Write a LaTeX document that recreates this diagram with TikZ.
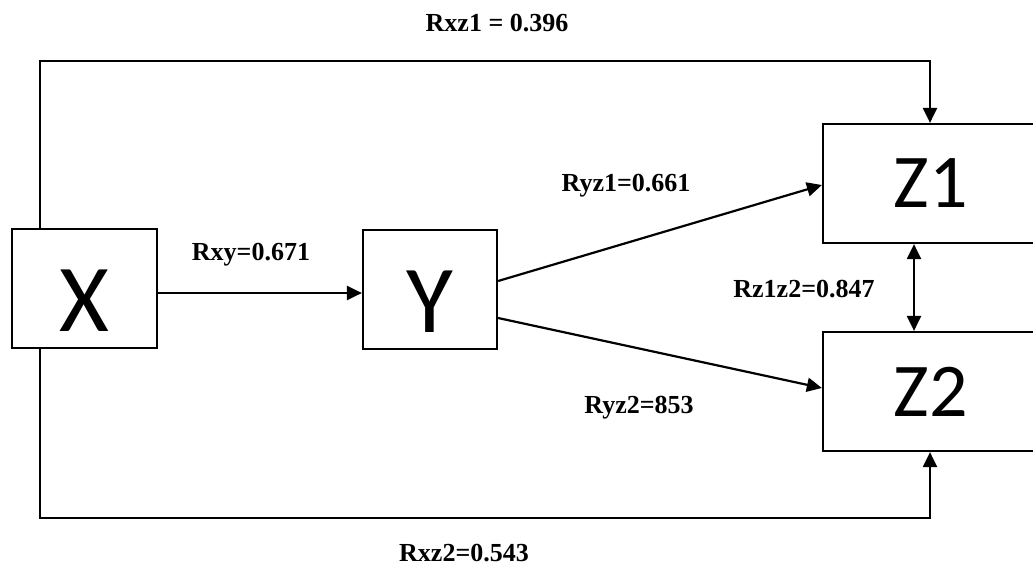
\documentclass[tikz,border=0pt]{standalone}
\usepackage{fontspec}
\setmainfont{Liberation Serif}
\newfontfamily\boxfont{Carlito}
\usetikzlibrary{arrows.meta}

\begin{document}
\begin{tikzpicture}[x=1pt, y=-1pt,
    box/.style={draw, line width=2.2pt, inner sep=0pt, minimum height=119pt},
    big/.style={font=\boxfont\fontsize{96}{96}\selectfont, text height=86pt, text depth=0pt},
    mid/.style={font=\boxfont\fontsize{76}{76}\selectfont},
    lbl/.style={font=\bfseries\fontsize{26}{30}\selectfont, inner sep=0pt},
    arr/.style={line width=2.2pt, -{Triangle[length=15pt, width=14pt]}},
    arrboth/.style={line width=2.2pt, {Triangle[length=15pt, width=14pt]}-{Triangle[length=15pt, width=14pt]}}]
    \useasboundingbox (0,0) rectangle (1033,568);
    \clip (0,0) rectangle (1033,568);

    \node[box, big, minimum width=145pt] (X) at (84.5,288.5) {X};
    \node[box, big, minimum width=134pt] (Y) at (430,289.5) {Y};
    \node[box, mid, minimum width=216pt] (Z1) at (931,183.5) {Z1};
    \node[box, mid, minimum width=216pt] (Z2) at (931,391.5) {Z2};

    \coordinate (topr) at (930,61);
    \coordinate (botr) at (930,518);

    \draw[arr] ([yshift=-4.5pt]X.east) -- ([yshift=-3.5pt]Y.west);
    \draw[arr] ([yshift=8.5pt]Y.east) -- ([yshift=-1.5pt]Z1.west);
    \draw[arr] ([yshift=-28.5pt]Y.east) -- ([yshift=3.5pt]Z2.west);
    \draw[arr] ([xshift=-44.5pt]X.north) |- (topr) -- (topr |- Z1.north);
    \draw[arr] ([xshift=-44.5pt,yshift=2pt]X.south) |- (botr) -- (botr |- Z2.south);
    \draw[arrboth] ([xshift=-17pt]Z1.south) -- ([xshift=-17pt]Z2.north);

    \node[lbl] (rxz1) at (497,23) {Rxz1 = 0.396};
    \node[lbl] (rxz2) at (464,553) {Rxz2=0.543};
    \node[lbl] (rxy) at (251,255) {Rxy=0.671};
    \node[lbl] (ryz1) at (626,186) {Ryz1=0.661};
    \node[lbl] (ryz2) at (639,408) {Ryz2=853};
    \node[lbl] (rz1z2) at (804,289) {Rz1z2=0.847};
\end{tikzpicture}
\end{document}
